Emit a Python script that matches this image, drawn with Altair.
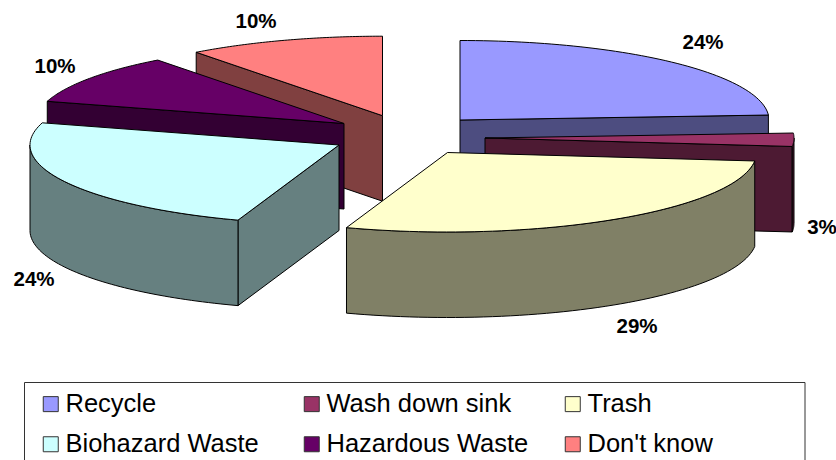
import math
import altair as alt
import pandas as pd

# Survey shares, in percent
categories = ["Recycle", "Wash down sink", "Trash", "Biohazard Waste", "Hazardous Waste", "Don't know"]
shares = [24.0, 2.7, 28.6, 24.2, 10.2, 10.3]
top_colors = ["#9999FF", "#993366", "#FFFFCC", "#CCFFFF", "#660066", "#FF8080"]
side_colors = ["#4D4D80", "#4D1A33", "#808066", "#668080", "#330033", "#804040"]

# Exploded wedge tips on the page, and the tilted disc's proportions
tip_x = [460, 485, 447.5, 339, 344, 382.5]
tip_y = [120, 138, 152.5, 145, 123.5, 115.7]
RADIUS_X, RADIUS_Y, DEPTH = 309, 79.5, 85.5

# Percent-label anchors
label_x = [703, 822, 637, 34, 55, 256]
label_y = [43, 228, 327, 280, 67, 22]

# Back-to-front painting order of the wedges
PAINT_ORDER = [5, 4, 0, 1, 3, 2]


def rim(i, a0, a1, drop=0.0, steps=60):
    pts = []
    for k in range(steps + 1):
        a = math.radians(a0 + (a1 - a0) * k / steps)
        pts.append([tip_x[i] + RADIUS_X * math.sin(a), tip_y[i] - RADIUS_Y * math.cos(a) + drop])
    return pts


def feature(face, ring):
    return {
        "type": "Feature",
        "properties": {"face": face},
        "geometry": {"type": "Polygon", "coordinates": [ring + [ring[0]]]},
    }


starts = [sum(shares[:i]) * 3.6 for i in range(len(shares))]
ends = [sum(shares[: i + 1]) * 3.6 for i in range(len(shares))]

features = []
for i in PAINT_ORDER:
    a0, a1 = starts[i], ends[i]
    side = categories[i] + " side"
    tip = [tip_x[i], tip_y[i]]
    tip_low = [tip_x[i], tip_y[i] + DEPTH]
    # Cut faces that turn towards the viewer
    if math.sin(math.radians(a0)) < -1e-6:
        p = rim(i, a0, a0, steps=1)[0]
        features.append(feature(side, [tip, p, [p[0], p[1] + DEPTH], tip_low]))
    if math.sin(math.radians(a1)) > 1e-6:
        p = rim(i, a1, a1, steps=1)[0]
        features.append(feature(side, [tip, p, [p[0], p[1] + DEPTH], tip_low]))
    # Outer wall on the near half of the disc
    w0, w1 = max(a0, 90), min(a1, 270)
    if w1 > w0:
        features.append(feature(side, rim(i, w0, w1) + rim(i, w1, w0, DEPTH)))
    # Top face
    features.append(feature(categories[i], [tip] + rim(i, a0, a1)))

# Page coordinates pass straight through, y pointing down
projection = dict(type="identity", scale=1, translate=[0, 0])

faces = (
    alt.Chart(
        alt.InlineData(
            values={"type": "FeatureCollection", "features": features},
            format=alt.DataFormat(property="features", type="json"),
        )
    )
    .mark_geoshape(stroke="#000000", strokeWidth=1, strokeJoin="round")
    .encode(
        fill=alt.Fill(
            "properties.face:N",
            scale=alt.Scale(
                domain=categories + [c + " side" for c in categories],
                range=top_colors + side_colors,
            ),
            legend=alt.Legend(
                title=None,
                values=categories,
                orient="none",
                direction="horizontal",
                gridAlign="all",
                legendX=38,
                legendY=391,
                columns=3,
                columnPadding=31,
                rowPadding=13.5,
                symbolType="square",
                symbolSize=225,
                symbolStrokeColor="#333333",
                symbolStrokeWidth=1,
                labelFont="Liberation Sans",
                labelFontSize=25.5,
                labelColor="#000000",
                labelLimit=400,
                labelOffset=2,
                padding=0,
            ),
        )
    )
    .project(**projection)
)

labels = (
    alt.Chart(
        pd.DataFrame(
            {
                "lx": label_x,
                "ly": label_y,
                "label": [f"{s:.0f}%" for s in shares],
            }
        )
    )
    .mark_text(font="Liberation Sans", fontSize=20.5, fontWeight="bold", color="#000000")
    .encode(longitude="lx:Q", latitude="ly:Q", text="label:N")
    .project(**projection)
)

frame = alt.Chart(pd.DataFrame({"k": [0]})).mark_rect(fill="white", stroke="#333333", strokeWidth=1).encode(
    x=alt.value(24.5), x2=alt.value(805), y=alt.value(382.5), y2=alt.value(480)
)

chart = (
    alt.layer(frame, faces, labels)
    .properties(width=836, height=460, padding=0, autosize=alt.AutoSizeParams(type="none"), background="white")
    .configure_view(stroke=None)
)

chart.save("out.html", embed_options={"renderer": "svg", "actions": False})
